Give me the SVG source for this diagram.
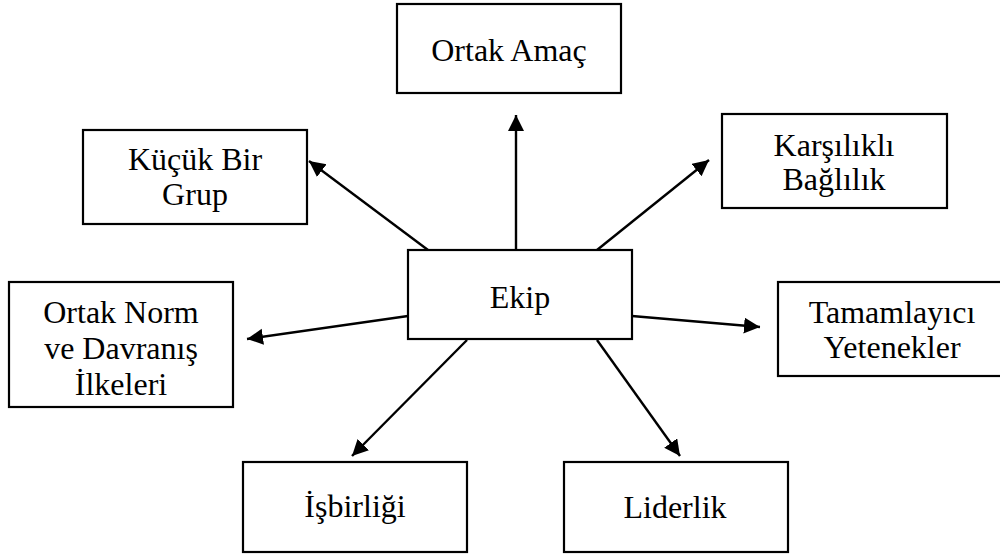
<svg xmlns="http://www.w3.org/2000/svg" width="1000" height="555" viewBox="0 0 1000 555">
<style>
.box{fill:#fff;stroke:#000;stroke-width:2.2}
.t{font-size:32px;fill:#000;text-anchor:middle}
.c{stroke:#000;stroke-width:2.4;fill:none;marker-end:url(#ah)}
</style>
<defs>
<marker id="ah" markerUnits="userSpaceOnUse" markerWidth="17" markerHeight="17" refX="16" refY="8" orient="auto" viewBox="0 0 17 17">
<path d="M0,0 L16,8 L0,16 z" fill="#000"/>
</marker>
</defs>
<rect width="1000" height="555" fill="#fff"/>
<g id="connectors">
<line class="c" x1="516" y1="250" x2="516" y2="115"/>
<line class="c" x1="428" y1="250" x2="309" y2="161"/>
<line class="c" x1="597" y1="250" x2="709" y2="160"/>
<line class="c" x1="408" y1="316" x2="247" y2="339"/>
<line class="c" x1="632" y1="316" x2="760" y2="327"/>
<line class="c" x1="467" y1="340" x2="352" y2="456"/>
<line class="c" x1="597" y1="340" x2="680" y2="456"/>
</g>
<g id="ortak-amac">
<rect class="box" x="397" y="4" width="224" height="89"/>
<text class="t" x="509" y="61" font-family="Liberation Serif">Ortak Amaç</text>
</g>
<g id="kucuk-bir-grup">
<rect class="box" x="83" y="130" width="224" height="94"/>
<text class="t" x="195" y="170" font-family="Liberation Serif">Küçük Bir</text>
<text class="t" x="195" y="205" font-family="Liberation Serif">Grup</text>
</g>
<g id="karsilikli-baglilik">
<rect class="box" x="722" y="114" width="225" height="94"/>
<text class="t" x="834" y="156" font-family="Liberation Serif">Karşılıklı</text>
<text class="t" x="834" y="190" font-family="Liberation Serif">Bağlılık</text>
</g>
<g id="ekip">
<rect class="box" x="408" y="250" width="224" height="89"/>
<text class="t" x="520" y="308" font-family="Liberation Serif">Ekip</text>
</g>
<g id="ortak-norm">
<rect class="box" x="9" y="282" width="224" height="125"/>
<text class="t" x="121" y="323" font-family="Liberation Serif">Ortak Norm</text>
<text class="t" x="121" y="359" font-family="Liberation Serif">ve Davranış</text>
<text class="t" x="121" y="395" font-family="Liberation Serif">İlkeleri</text>
</g>
<g id="tamamlayici">
<rect class="box" x="778" y="282" width="224" height="94"/>
<text class="t" x="892" y="323" font-family="Liberation Serif">Tamamlayıcı</text>
<text class="t" x="892" y="358" font-family="Liberation Serif">Yetenekler</text>
</g>
<g id="isbirligi">
<rect class="box" x="243" y="462" width="224" height="90"/>
<text class="t" x="355" y="517" font-family="Liberation Serif">İşbirliği</text>
</g>
<g id="liderlik">
<rect class="box" x="564" y="462" width="224" height="90"/>
<text class="t" x="675" y="518" font-family="Liberation Serif">Liderlik</text>
</g>
</svg>
